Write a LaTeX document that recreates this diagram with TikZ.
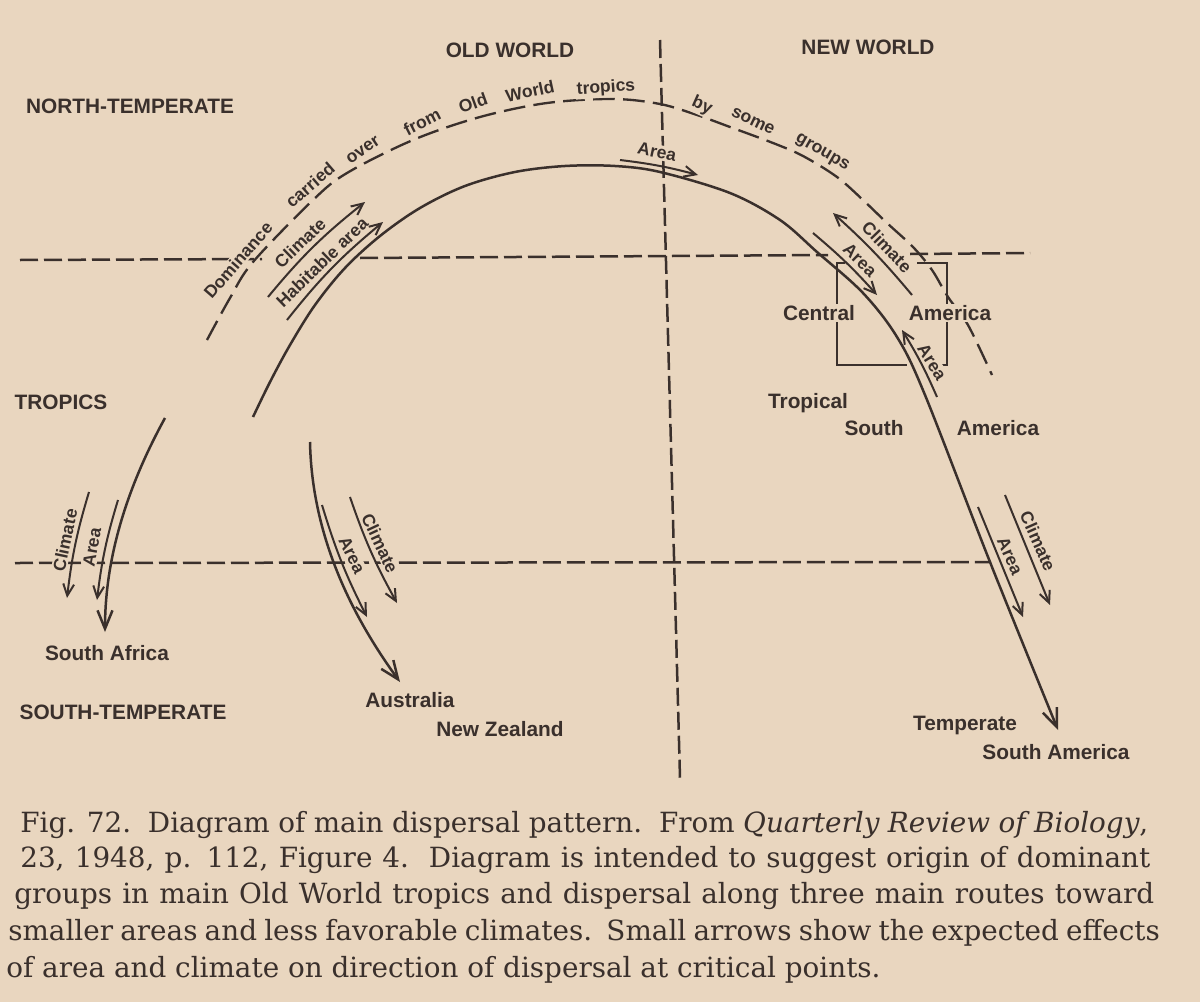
\documentclass[tikz,border=0pt]{standalone}
\usepackage{fontspec}
\setmainfont{DejaVu Serif}
\setsansfont{Liberation Sans}
\usetikzlibrary{arrows.meta}
\definecolor{bgc}{RGB}{233,214,191}
\definecolor{inkc}{RGB}{58,48,44}
\begin{document}
\begin{tikzpicture}[x=0.6pt,y=-0.6pt,
  gridline/.style={draw=inkc, line width=1.5pt, dash pattern=on 10.8pt off 3.6pt},
  arcline/.style={draw=inkc, line width=1.4pt, dash pattern=on 13pt off 5pt},
  routearrow/.style={draw=inkc, line width=1.5pt, -{Straight Barb[length=11pt,width=9pt]}},
  smallarrow/.style={draw=inkc, line width=1.2pt, -{Straight Barb[length=7pt,width=6.5pt]}},
  boxline/.style={draw=inkc, line width=1.3pt},
  biglab/.style={font=\sffamily\bfseries\fontsize{12.5}{14}\selectfont, text=inkc, inner sep=1pt, fill=bgc},
  tinylab/.style={font=\sffamily\bfseries\fontsize{10.5}{12}\selectfont, text=inkc, inner sep=0.8pt, fill=bgc},
  capline/.style={font=\fontsize{16.7}{21.6}\selectfont, text=inkc, inner sep=0pt, anchor=base west}
]
\fill[bgc] (0,0) rectangle (1200,1002);
\useasboundingbox (0,0) rectangle (1200,1002);

% ---- grid lines
\draw[gridline] (20,260) -- (262,259);
\draw[gridline] (360,258) -- (828,255);
\draw[gridline] (910,254) -- (1030,253);
\draw[gridline] (15,563) -- (990,562);
\draw[gridline] (660,40) -- (680,778);

% ---- dashed arc (dominance carried over)
\draw[arcline] plot[smooth,tension=0.55] coordinates {(207,340) (230,298) (253,262) (313,200) (347,173) (413,140) (480,117) (547,103) (613,99) (660,104) (697,115) (730,127) (773,143) (803,156) (837,177) (863,200) (887,223) (913,247) (932,270) (948,297) (968,325) (992,375)};

% ---- Central America box
\draw[boxline] (845,263) -- (837,263) -- (837,365) -- (907,365);
\draw[boxline] (917,263) -- (947,263) -- (947,365) -- (940,365);

% ---- big labels
\node[biglab] (oldw) at (510,50) {OLD WORLD};
\node[biglab] (neww) at (868,47) {NEW WORLD};
\node[biglab] (ntemp) at (130,106) {NORTH-TEMPERATE};
\node[biglab] (trop) at (61,402) {TROPICS};
\node[biglab] (stemp) at (123,712) {SOUTH-TEMPERATE};
\node[biglab] (safr) at (107,653) {South Africa};
\node[biglab] (austr) at (410,700) {Australia};
\node[biglab] (nz) at (500,729) {New Zealand};
\node[biglab] (centr) at (819,313) {Central};
\node[biglab] (amer1) at (950,313) {America};
\node[biglab] (tropsa) at (808,403) {Tropical};
\node[biglab] (south) at (874,428) {South};
\node[biglab] (amer2) at (998,428) {America};
\node[biglab] (tempr) at (965,725) {Temperate};
\node[biglab] (tsa) at (1056,752) {South America};

% ---- words along dashed arc
\node[tinylab, rotate=49] (w1) at (238,260) {Dominance};
\node[tinylab, rotate=41] (w2) at (310,185) {carried};
\node[tinylab, rotate=34] (w3) at (363,150) {over};
\node[tinylab, rotate=27] (w4) at (422,122) {from};
\node[tinylab, rotate=20] (w5) at (473,103) {Old};
\node[tinylab, rotate=12] (w6) at (530,91) {World};
\node[tinylab, rotate=4] (w7) at (606,88) {tropics};
\node[tinylab, rotate=-24] (w8) at (702,106) {by};
\node[tinylab, rotate=-26] (w9) at (753,121) {some};
\node[tinylab, rotate=-30] (w10) at (822,153) {groups};

% ---- small arrow labels
\node[tinylab, rotate=44] (lclim) at (300,243) {Climate};
\node[tinylab, rotate=44] (lhab) at (322,262) {Habitable area};
\node[tinylab, rotate=-12] (ltop) at (657,152) {Area};
\node[tinylab, rotate=-44] (lca1) at (860,260) {Area};
\node[tinylab, rotate=-46] (lca2) at (887,247) {Climate};
\node[tinylab, rotate=-58] (lca3) at (932,362) {Area};
\node[tinylab, rotate=-66] (llr1) at (1010,556) {Area};
\node[tinylab, rotate=-66] (llr2) at (1038,541) {Climate};
\node[tinylab, rotate=-64] (lau1) at (352,555) {Area};
\node[tinylab, rotate=-65] (lau2) at (380,543) {Climate};
\node[tinylab, rotate=80] (laf1) at (92,547) {Area};
\node[tinylab, rotate=78] (laf2) at (65,540) {Climate};

% ---- main routes
\coordinate (origin) at (253,417);
\coordinate (tsam) at (1058,730);
\draw[routearrow] plot[smooth,tension=0.55] coordinates {(253,417) (270,382) (290,345) (315,305) (345,268) (380,236) (420,208) (465,186) (515,172) (565,166) (615,166) (660,172) (730,193) (780,220) (817,252) (863,293) (897,337) (925,395) (990,562) (1058,730)};
\coordinate (afs) at (165,418);
\coordinate (afe) at (105,632);
\draw[routearrow] (afs) .. controls (120,500) and (105,570) .. (afe);
\coordinate (aus) at (310,442);
\coordinate (aue) at (400,682);
\draw[routearrow] (aus) .. controls (312,540) and (355,620) .. (aue);

% ---- small arrows
\draw[smallarrow] (268,297) to[bend left=6] (365,202);
\draw[smallarrow] (287,320) to[bend left=6] (383,222);
\draw[smallarrow] (620,160) to[bend left=4] (698,175);
\draw[smallarrow] (813,233) to[bend left=4] (877,295);
\draw[smallarrow] (912,295) to[bend right=4] (833,213);
\draw[smallarrow] (937,397) to[bend right=4] (902,330);
\draw[smallarrow] (978,507) -- (1023,617);
\draw[smallarrow] (1005,495) -- (1050,605);
\draw[smallarrow] (322,505) to[bend right=5] (367,617);
\draw[smallarrow] (350,497) to[bend right=5] (397,603);
\draw[smallarrow] (118,500) to[bend right=5] (97,600);
\draw[smallarrow] (89,492) to[bend right=5] (67,598);

% ---- caption
\node[capline] (c1) at (20,832) {\makebox[676.8pt][s]{Fig. 72.\ \ Diagram of main dispersal pattern.\ \ From \textit{Quarterly Review of Biology},}};
\node[capline] (c2) at (20,867) {\makebox[678pt][s]{23, 1948, p. 112, Figure 4.\ \ Diagram is intended to suggest origin of dominant}};
\node[capline] (c3) at (14,903) {\makebox[684pt][s]{groups in main Old World tropics and dispersal along three main routes toward}};
\node[capline] (c4) at (8,940) {\makebox[691pt][s]{smaller areas and less favorable climates.\ \ Small arrows show the expected effects}};
\node[capline] (c5) at (6,977) {of area and climate on direction of dispersal at critical points.};
\end{tikzpicture}
\end{document}
